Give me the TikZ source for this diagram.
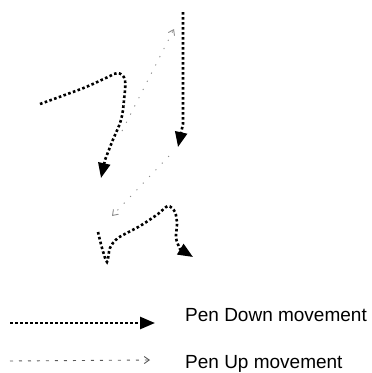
\documentclass[tikz,border=0pt]{standalone}
\usepackage{fontspec}
\setmainfont{Liberation Sans}
\usetikzlibrary{arrows.meta}

\begin{document}
\begin{tikzpicture}[
        x=1pt,y=-1pt,
        pen down/.style={line width=2.6pt,dash pattern=on 2.6pt off 2.4pt,
            -{Triangle[length=15pt,width=12pt]}},
        pen up/.style={black!45,line width=0.9pt,dash pattern=on 1.2pt off 8pt,
            -{Straight Barb[length=5pt,width=7pt,line width=0.9pt]}},
        legend/.style={anchor=base west,inner sep=0pt,
            font=\fontsize{19}{22}\selectfont}
    ]
    \useasboundingbox (0,0) rectangle (372,373);

    % the strokes, as the pen went
    \draw[pen down] plot[smooth,tension=0.6] coordinates {
        (40,104) (62,96) (86,87) (108,77) (118,73) (125,80)
        (124,100) (121,120) (112,142) (105,160)} -- (101,178);
    \coordinate (up1a) at (122,131);
    \coordinate (up1b) at (174,29);
    \draw[pen up] (up1a) -- (up1b);

    \coordinate (vtop) at (183,12);
    \coordinate (vbend) at (183,124);
    \coordinate (vtip) at (178,147);
    \draw[pen down] (vtop) -- (vbend) -- (vtip);

    \coordinate (up2a) at (169,156);
    \coordinate (up2b) at (112,216);
    \draw[pen up] (up2a) -- (up2b);

    \draw[pen down] plot[smooth,tension=0.5] coordinates {
        (98,232) (102,248) (107,262) (110,248) (118,238) (140,226)
        (158,214) (168,206) (175,212) (177,224) (176,238) (180,249)}
        -- (193,257);

    % legend
    \coordinate (downa) at (10,323);
    \coordinate (downb) at (155,323);
    \draw[pen down] (downa) -- (downb);
    \node[legend] (downtext) at (185,321) {Pen Down movement};

    \coordinate (upa) at (10,361);
    \coordinate (upb) at (150,360);
    \draw[pen up,black!65,dash pattern=on 3pt off 6pt] (upa) -- (upb);
    \node[legend] (uptext) at (185,368) {Pen Up movement};
\end{tikzpicture}
\end{document}
